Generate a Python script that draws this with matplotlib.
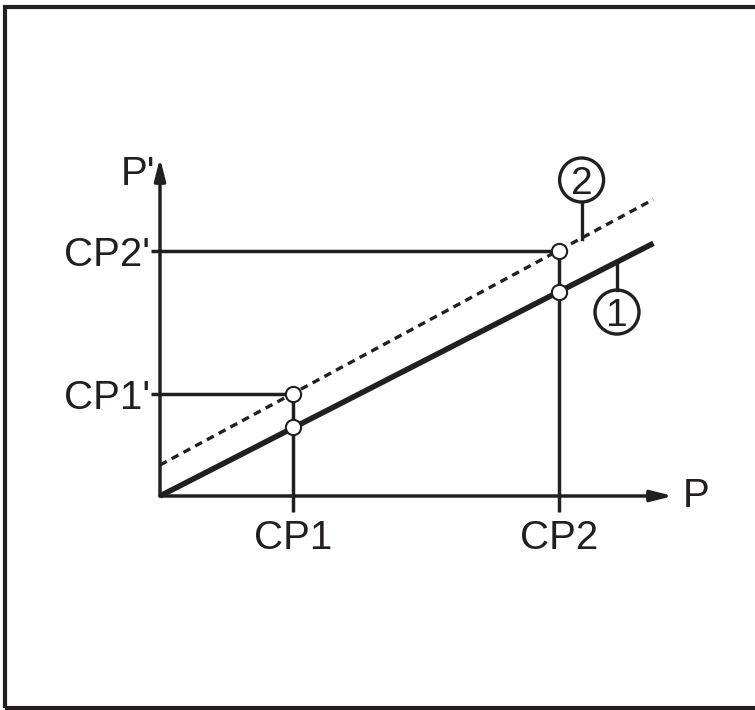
import matplotlib.pyplot as plt
from matplotlib.patches import Circle, Rectangle

plt.rcParams['font.family'] = ['Liberation Sans', 'DejaVu Sans']

# data (arbitrary units, CP1 = 1)
cp_x = [1.0, 3.0]
cp_labels = ['CP1', 'CP2']
cp_solid = [0.52, 1.534]
cp_dashed = [0.767, 1.84]
cp_y_labels = ["CP1'", "CP2'"]
line_x = [0.0, 3.71]
solid_y = [0.0, 1.90]
dashed_y = [0.233, 2.23]

INK = '#231f20'
U = 133.0  # pixels per unit

fig = plt.figure(figsize=(7.55, 7.1), dpi=100)
ax = fig.add_axes([0, 0, 1, 1])
ax.set_xlim(-160 / U, (755 - 160) / U)
ax.set_ylim(-(710 - 496) / U, 496 / U)
ax.axis('off')

# frame
fig.patches.append(Rectangle((5 / 755, 2 / 710), 760 / 755, 701 / 710,
                             transform=fig.transFigure, fill=False,
                             lw=3.0, ec=INK))

# axes with arrows
arr = dict(arrowstyle='-|>,head_length=1.3,head_width=0.33', mutation_scale=10,
           lw=2.5, color=INK, shrinkA=0, shrinkB=0)
ax.annotate('', xy=(513 / U, 0), xytext=(0, 0), arrowprops=arr)
ax.annotate('', xy=(0, 338 / U), xytext=(0, 0), arrowprops=arr)
ax.text((683 - 160) / U, 0, 'P', fontsize=29, ha='left', va='center', color=INK)
ax.text(-5 / U, 311 / U, "P'", fontsize=29, ha='right', va='baseline', color=INK)

# guide lines
for x, ys, yd, lab, ylab in zip(cp_x, cp_solid, cp_dashed, cp_labels, cp_y_labels):
    ax.plot([x, x], [-16 / U, yd], color=INK, lw=2.5, solid_capstyle='butt')
    ax.plot([-9 / U, x], [yd, yd], color=INK, lw=2.5, solid_capstyle='butt')
    ax.text(x, -53 / U, lab, fontsize=29, ha='center', va='baseline', color=INK)
    ax.text(-10 / U, yd - 15 / U, ylab, fontsize=29, ha='right', va='baseline', color=INK)

# characteristic lines
ax.plot(line_x, solid_y, color=INK, lw=4.0, solid_capstyle='butt')
ax.plot(line_x, dashed_y, color=INK, lw=2.4, linestyle=(0, (2.3, 1.7)))

ax.plot(cp_x, cp_solid, 'o', ms=11, mfc='white', mec=INK, mew=1.5, zorder=5)
ax.plot(cp_x, cp_dashed, 'o', ms=11, mfc='white', mec=INK, mew=1.5, zorder=5)

# callouts
r = 22 / U
callouts = [('1', 3.436, 1.383, -1), ('2', 3.17, 2.376, 1)]
for num, cx, cy, side in callouts:
    ax.add_patch(Circle((cx, cy), r, fill=False, ec=INK, lw=2.4))
    ax.text(cx, cy, num, fontsize=28, ha='center', va='center_baseline', color=INK)
    if side < 0:
        y_line = cx * 0.512
        ax.plot([cx, cx], [cy + r, y_line], color=INK, lw=2.4)
    else:
        y_line = 0.233 + cx * 0.536
        ax.plot([cx, cx], [cy - r, y_line], color=INK, lw=2.4)

fig.savefig('out.png', dpi=100)
